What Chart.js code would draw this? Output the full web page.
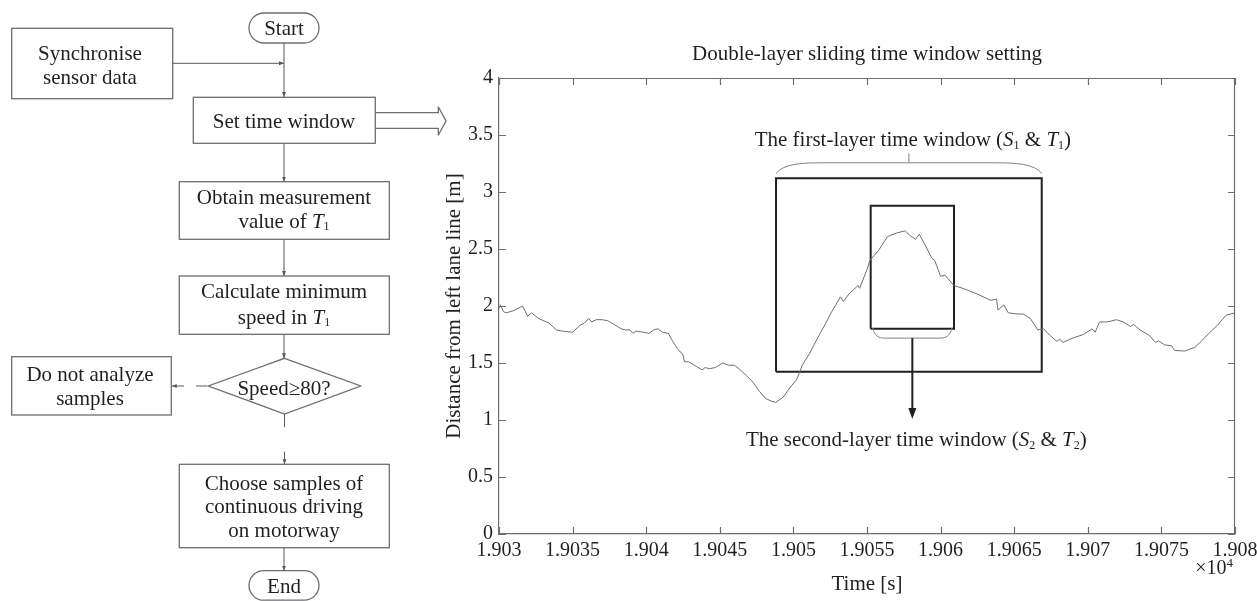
<!DOCTYPE html>
<html>
<head>
<meta charset="utf-8">
<script src="https://cdn.jsdelivr.net/npm/chart.js"></script>
<style>
  html, body { margin: 0; padding: 0; background: #ffffff; }
  #wrap { position: relative; width: 1257px; height: 601px; overflow: hidden; }
  #c { position: absolute; left: 0; top: 0; }
  #flow { position: absolute; left: 0; top: 0; }
  #flow text { font-family: 'Liberation Serif', 'Times New Roman', serif; font-size: 21px; fill: #231f20; }
</style>
</head>
<body>
<div id="wrap">
<canvas id="c" width="1257" height="601"></canvas>
<svg id="flow" width="460" height="601" viewBox="0 0 460 601">
  <defs>
    <marker id="ah" viewBox="0 0 10 10" refX="10" refY="5" markerWidth="5" markerHeight="5" orient="auto">
      <path d="M0,1 L10,5 L0,9 z" fill="#58595b"/>
    </marker>
  </defs>
  <g fill="none" stroke="#6d6e71" stroke-width="1.3">
    <rect x="249" y="13" width="70" height="30" rx="15" ry="15"/>
    <rect x="11.7" y="28.3" width="161" height="70.4"/>
    <rect x="193.3" y="97.3" width="182" height="46"/>
    <path d="M375.3,112.7 L438.3,112.7 L438.3,106.7 L446,121 L438.3,135.3 L438.3,128.3 L375.3,128.3"/>
    <rect x="179.3" y="181.7" width="210" height="57.6"/>
    <rect x="179.3" y="276" width="210" height="58.3"/>
    <polygon points="284.5,358.3 360.7,386 284.5,414 208.3,386"/>
    <rect x="11.7" y="356.7" width="159.6" height="58.3"/>
    <rect x="179.3" y="464.3" width="210" height="83.4"/>
    <rect x="249" y="570.7" width="70" height="29.5" rx="14.7" ry="14.7"/>
  </g>
  <g fill="none" stroke="#58595b" stroke-width="1">
    <line x1="284" y1="43" x2="284" y2="97" marker-end="url(#ah)"/>
    <line x1="172.7" y1="63.3" x2="284" y2="63.3" marker-end="url(#ah)"/>
    <line x1="284" y1="143.3" x2="284" y2="181.7" marker-end="url(#ah)"/>
    <line x1="284" y1="239.3" x2="284" y2="276" marker-end="url(#ah)"/>
    <line x1="284" y1="334.3" x2="284" y2="358.3" marker-end="url(#ah)"/>
    <line x1="207" y1="386" x2="196" y2="386"/>
    <line x1="184" y1="386" x2="171.7" y2="386" marker-end="url(#ah)"/>
    <line x1="284.5" y1="414" x2="284.5" y2="427.3"/>
    <line x1="284.5" y1="451.7" x2="284.5" y2="464.3" marker-end="url(#ah)"/>
    <line x1="284" y1="547.7" x2="284" y2="570.7" marker-end="url(#ah)"/>
  </g>
  <g text-anchor="middle" dominant-baseline="central">
    <text x="284" y="27.5">Start</text>
    <text x="90" y="53">Synchronise</text>
    <text x="90" y="77">sensor data</text>
    <text x="284" y="121">Set time window</text>
    <text x="284" y="197">Obtain measurement</text>
    <text x="284" y="221">value of <tspan font-style="italic">T</tspan><tspan font-size="12" dy="5">1</tspan></text>
    <text x="284" y="291">Calculate minimum</text>
    <text x="284" y="316.5">speed in <tspan font-style="italic">T</tspan><tspan font-size="12" dy="5">1</tspan></text>
    <text x="284" y="387.5">Speed≥80?</text>
    <text x="90" y="374">Do not analyze</text>
    <text x="90" y="397.5">samples</text>
    <text x="284" y="482.5">Choose samples of</text>
    <text x="284" y="506">continuous driving</text>
    <text x="284" y="530">on motorway</text>
    <text x="284" y="585.5">End</text>
  </g>
</svg>
</div>
<script>
// ---- data ----
const timeSec = [
  19030.0, 19030.1, 19030.3, 19030.5, 19031.0, 19031.6, 19031.95, 19032.2, 19032.7, 19033.4,
  19033.9, 19034.3, 19035.0, 19035.5, 19035.8, 19036.1, 19036.3, 19036.6, 19037.0, 19037.4,
  19037.8, 19038.3, 19038.6, 19038.9, 19039.1, 19039.3, 19039.8, 19040.2, 19040.5, 19040.8,
  19041.1, 19041.5, 19041.8, 19042.1, 19042.5, 19042.6, 19042.9, 19043.4, 19043.8, 19044.0,
  19044.3, 19044.7, 19045.2, 19045.6, 19046.0, 19046.3, 19046.8, 19047.2, 19047.7, 19048.1,
  19048.5, 19048.8, 19049.3, 19049.8, 19050.2, 19050.4, 19050.6, 19051.1, 19051.65, 19052.2,
  19052.6, 19053.2, 19053.4, 19053.8, 19054.4, 19054.5, 19055.0, 19055.2, 19055.8, 19056.4,
  19057.0, 19057.6, 19057.9, 19058.3, 19058.55, 19058.95, 19059.4, 19059.6, 19060.0, 19060.3,
  19060.9, 19061.5, 19062.4, 19063.4, 19063.8, 19063.9, 19064.3, 19064.6, 19065.2, 19065.6,
  19066.1, 19066.6, 19067.0, 19067.4, 19067.9, 19068.1, 19068.3, 19069.0, 19069.7, 19070.3,
  19070.5, 19070.8, 19071.3, 19071.95, 19072.4, 19072.9, 19073.1, 19073.55, 19074.2, 19074.6,
  19074.8, 19075.2, 19075.7, 19075.9, 19076.6, 19077.3, 19077.7, 19078.1, 19078.8, 19079.4,
  19080.0
];
const distance = [
  1.98, 2.01, 1.95, 1.94, 1.96, 2.00, 1.91, 1.94, 1.89, 1.85,
  1.79, 1.78, 1.77, 1.83, 1.85, 1.89, 1.86, 1.88, 1.88, 1.87,
  1.84, 1.80, 1.79, 1.79, 1.76, 1.78, 1.77, 1.76, 1.79, 1.80,
  1.77, 1.76, 1.69, 1.63, 1.57, 1.51, 1.51, 1.47, 1.44, 1.46,
  1.45, 1.46, 1.50, 1.48, 1.48, 1.45, 1.39, 1.34, 1.25, 1.19,
  1.165, 1.155, 1.20, 1.29, 1.35, 1.41, 1.48, 1.585, 1.72, 1.85,
  1.95, 2.08, 2.04, 2.11, 2.18, 2.155, 2.32, 2.40, 2.49, 2.61,
  2.64, 2.66, 2.62, 2.585, 2.63, 2.535, 2.42, 2.40, 2.26, 2.27,
  2.18, 2.155, 2.11, 2.05, 2.06, 1.965, 2.01, 1.94, 1.93, 1.93,
  1.89, 1.79, 1.80, 1.745, 1.69, 1.71, 1.68, 1.72, 1.75, 1.80,
  1.77, 1.86, 1.86, 1.88, 1.86, 1.82, 1.84, 1.79, 1.74, 1.68,
  1.695, 1.66, 1.65, 1.61, 1.605, 1.64, 1.69, 1.745, 1.83, 1.92,
  1.94
];
const xTickLabels = ['1.903', '1.9035', '1.904', '1.9045', '1.905', '1.9055', '1.906', '1.9065', '1.907', '1.9075', '1.908'];
const yTickLabels = ['0', '0.5', '1', '1.5', '2', '2.5', '3', '3.5', '4'];
const firstWindowT = [19048.82, 19066.87];
const firstWindowD = [1.424, 3.12];
const secondWindowT = [19055.25, 19060.91];
const secondWindowD = [1.80, 2.88];
const chartTitle = 'Double-layer sliding time window setting';
const xTitle = 'Time [s]';
const yTitle = 'Distance from left lane line [m]';

// ---- styling ----
const SERIF = "'Liberation Serif', 'Times New Roman', serif";
const TXT = '#231f20';
const AXIS = '#6d6e71';

function rectPoints(t, d) {
  return [
    { x: t[0], y: d[0] }, { x: t[1], y: d[0] }, { x: t[1], y: d[1] },
    { x: t[0], y: d[1] }, { x: t[0], y: d[0] }
  ];
}

function drawRich(ctx, parts, cx, cy, size) {
  const fontFor = p => (p.italic ? 'italic ' : '') + (p.sub ? Math.round(size * 0.58) : size) + 'px ' + SERIF;
  let total = 0;
  parts.forEach(p => { ctx.font = fontFor(p); total += ctx.measureText(p.text).width; });
  let x = cx - total / 2;
  ctx.textAlign = 'left';
  ctx.textBaseline = 'middle';
  ctx.fillStyle = TXT;
  parts.forEach(p => {
    ctx.font = fontFor(p);
    ctx.fillText(p.text, x, cy + (p.sub ? size * 0.28 : 0));
    x += ctx.measureText(p.text).width;
  });
}

const framePlugin = {
  id: 'frame',
  afterDraw(chart) {
    const { ctx, chartArea: a, scales: { x, y } } = chart;
    ctx.save();
    ctx.strokeStyle = AXIS;
    ctx.lineWidth = 1.2;
    ctx.beginPath();
    ctx.moveTo(a.left, a.top + 0.5); ctx.lineTo(a.right, a.top + 0.5);
    ctx.moveTo(a.right - 0.5, a.top); ctx.lineTo(a.right - 0.5, a.bottom);
    const tl = 7;
    x.ticks.forEach(t => {
      const p = Math.round(x.getPixelForValue(t.value)) + 0.5;
      ctx.moveTo(p, a.bottom); ctx.lineTo(p, a.bottom - tl);
      ctx.moveTo(p, a.top); ctx.lineTo(p, a.top + tl);
    });
    y.ticks.forEach(t => {
      const p = Math.round(y.getPixelForValue(t.value)) + 0.5;
      ctx.moveTo(a.left, p); ctx.lineTo(a.left + tl, p);
      ctx.moveTo(a.right, p); ctx.lineTo(a.right - tl, p);
    });
    ctx.stroke();

    // exponent
    ctx.fillStyle = TXT;
    ctx.textBaseline = 'middle';
    ctx.textAlign = 'right';
    ctx.font = '13px ' + SERIF;
    ctx.fillText('4', a.right - 2, a.bottom + 30);
    const w4 = ctx.measureText('4').width;
    ctx.font = '20px ' + SERIF;
    ctx.fillText('\u00d710', a.right - 2 - w4, a.bottom + 35);

    // annotations
    const o = {
      l: x.getPixelForValue(firstWindowT[0]), r: x.getPixelForValue(firstWindowT[1]),
      t: y.getPixelForValue(firstWindowD[1]), b: y.getPixelForValue(firstWindowD[0])
    };
    const s = {
      l: x.getPixelForValue(secondWindowT[0]), r: x.getPixelForValue(secondWindowT[1]),
      t: y.getPixelForValue(secondWindowD[1]), b: y.getPixelForValue(secondWindowD[0])
    };
    // outer brace (above first window)
    ctx.strokeStyle = '#808285';
    ctx.lineWidth = 1;
    const oc = (o.l + o.r) / 2;
    const by = o.t - 15.5;
    ctx.beginPath();
    ctx.moveTo(o.l, o.t - 5);
    ctx.bezierCurveTo(o.l + 8, by + 1, o.l + 25, by, o.l + 45, by);
    ctx.lineTo(o.r - 45, by);
    ctx.bezierCurveTo(o.r - 25, by, o.r - 8, by + 1, o.r, o.t - 5);
    ctx.moveTo(oc, by); ctx.lineTo(oc, by - 9.5);
    ctx.stroke();
    // inner brace (below second window)
    const sc = (s.l + s.r) / 2;
    const iy = s.b + 9.3;
    ctx.beginPath();
    ctx.moveTo(s.l + 2, s.b - 1);
    ctx.bezierCurveTo(s.l + 4, iy - 2, s.l + 8, iy, s.l + 14, iy);
    ctx.lineTo(s.r - 14, iy);
    ctx.bezierCurveTo(s.r - 8, iy, s.r - 4, iy - 2, s.r - 2, s.b - 1);
    ctx.stroke();
    // arrow down
    const tip = iy + 81;
    ctx.strokeStyle = '#231f20';
    ctx.lineWidth = 2;
    ctx.beginPath();
    ctx.moveTo(sc, iy); ctx.lineTo(sc, tip - 8);
    ctx.stroke();
    ctx.fillStyle = '#231f20';
    ctx.beginPath();
    ctx.moveTo(sc - 4, tip - 11); ctx.lineTo(sc + 4, tip - 11); ctx.lineTo(sc, tip);
    ctx.closePath(); ctx.fill();

    drawRich(ctx, [
      { text: 'The first-layer time window (' }, { text: 'S', italic: true }, { text: '1', sub: true },
      { text: ' & ' }, { text: 'T', italic: true }, { text: '1', sub: true }, { text: ')' }
    ], oc + 4, o.t - 38, 21);
    drawRich(ctx, [
      { text: 'The second-layer time window (' }, { text: 'S', italic: true }, { text: '2', sub: true },
      { text: ' & ' }, { text: 'T', italic: true }, { text: '2', sub: true }, { text: ')' }
    ], sc + 4, tip + 21, 21);
    ctx.restore();
  }
};

const ctx = document.getElementById('c').getContext('2d');
new Chart(ctx, {
  type: 'scatter',
  data: {
    datasets: [
      {
        data: timeSec.map((t, i) => ({ x: t, y: distance[i] })),
        showLine: true, borderColor: '#6d6e71', borderWidth: 1, pointRadius: 0, tension: 0
      },
      {
        data: rectPoints(firstWindowT, firstWindowD),
        showLine: true, borderColor: '#231f20', borderWidth: 2, pointRadius: 0, tension: 0
      },
      {
        data: rectPoints(secondWindowT, secondWindowD),
        showLine: true, borderColor: '#231f20', borderWidth: 2, pointRadius: 0, tension: 0
      }
    ]
  },
  options: {
    responsive: false,
    animation: false,
    events: [],
    layout: { padding: { left: 0, right: 22, top: 0, bottom: 0 } },
    plugins: {
      legend: { display: false },
      tooltip: { enabled: false },
      title: {
        display: true, text: chartTitle, fullSize: false, color: TXT,
        font: { family: SERIF, size: 21, weight: 'normal' },
        padding: { top: 42, bottom: 10.8 }
      }
    },
    scales: {
      x: {
        type: 'linear', min: 19030, max: 19080,
        ticks: {
          stepSize: 5, autoSkip: false, maxRotation: 0, color: TXT, padding: 5,
          font: { family: SERIF, size: 20 },
          callback: (v, i) => xTickLabels[i]
        },
        grid: { display: false, drawTicks: false },
        border: { display: true, color: AXIS, width: 1.2 },
        title: {
          display: true, text: xTitle, color: TXT,
          font: { family: SERIF, size: 21 }, padding: { top: 0, bottom: 4 }
        },
        afterFit: sc => { sc.height = 67; sc.paddingLeft = 0; sc.paddingRight = 0; }
      },
      y: {
        min: 0, max: 4,
        ticks: {
          stepSize: 0.5, color: TXT, padding: 6,
          font: { family: SERIF, size: 20 },
          callback: (v, i) => yTickLabels[i]
        },
        grid: { display: false, drawTicks: false },
        border: { display: true, color: AXIS, width: 1.2 },
        title: {
          display: true, text: yTitle, color: TXT,
          font: { family: SERIF, size: 21 }, padding: { top: 442, bottom: 0 }
        },
        afterFit: sc => { sc.width = 499; sc.paddingTop = 0; sc.paddingBottom = 0; }
      }
    }
  },
  plugins: [framePlugin]
});
</script>
</body>
</html>
